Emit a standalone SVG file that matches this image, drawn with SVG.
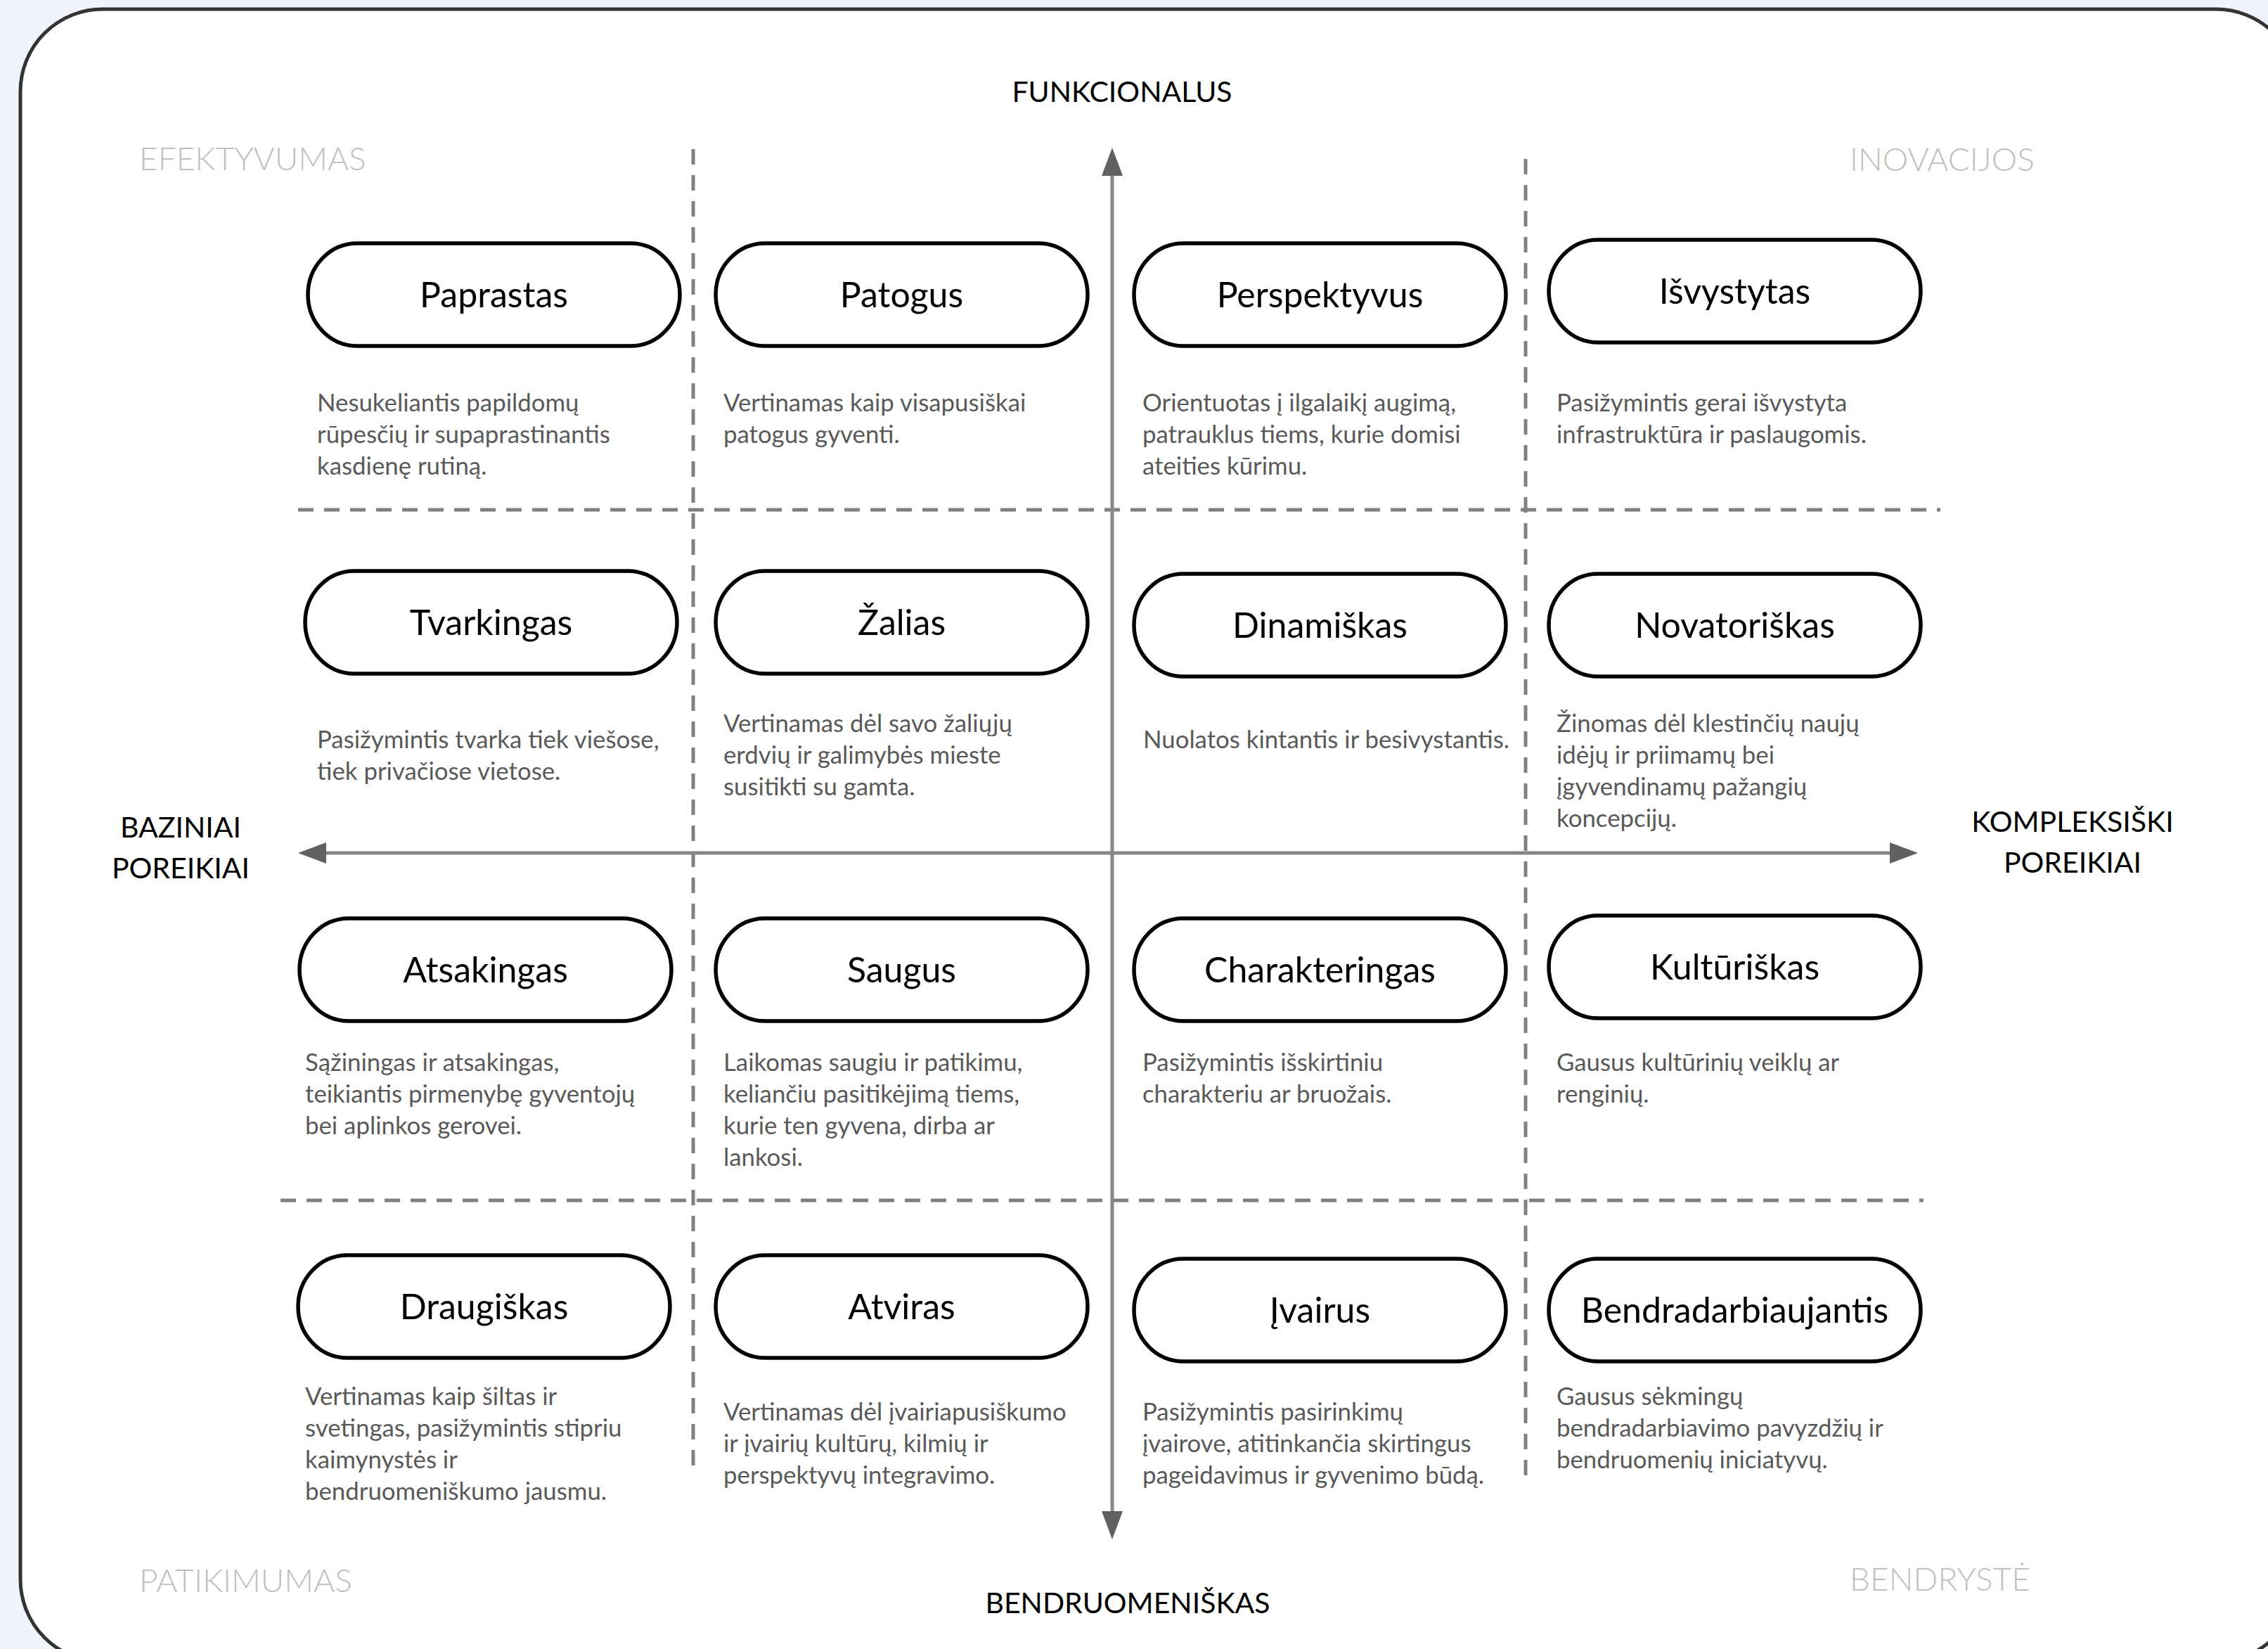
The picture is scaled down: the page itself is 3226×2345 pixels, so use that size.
<svg xmlns="http://www.w3.org/2000/svg" width="3226" height="2345" viewBox="0 0 3226 2345">
<defs>
<style>
.bg{fill:#eff3fb}
.frame{fill:#fff;stroke:#333;stroke-width:5}
.pill{fill:#fff;stroke:#000;stroke-width:5.5}
.lbl{font-family:Lato,"Liberation Sans",sans-serif;font-size:50px;fill:#000;text-anchor:middle}
.desc{font-family:Lato,"Liberation Sans",sans-serif;font-size:34.8px;fill:#595959}
.axl{font-family:Lato,"Liberation Sans",sans-serif;font-size:41px;fill:#000;text-anchor:middle}
.quad{font-family:Lato,"Liberation Sans",sans-serif;font-size:46px;font-weight:300;fill:#bfbfbf}
.grid{stroke:#808080;stroke-width:5;stroke-dasharray:22 15;fill:none}
.ax{stroke:#888;stroke-width:5;fill:none}
</style>
<marker id="arr" markerUnits="userSpaceOnUse" markerWidth="40" markerHeight="30" refX="0" refY="15" orient="auto-start-reverse" viewBox="0 0 40 30">
<path d="M0,0 L40,15 L0,30 Z" fill="#606060"/>
</marker>
</defs>
<rect class="bg" x="0" y="0" width="3226" height="2345"/>
<rect class="frame" x="29" y="13" width="3240" height="2350" rx="117" ry="117"/>

<g id="grid">
<line class="grid" x1="986" y1="212" x2="986" y2="2088"/>
<line class="grid" x1="2170" y1="226" x2="2170" y2="2102"/>
<line class="grid" x1="424" y1="725" x2="2760" y2="725"/>
<line class="grid" x1="399" y1="1707" x2="2736" y2="1707"/>
</g>

<g id="connectors">
<line class="ax" x1="1582" y1="250" x2="1582" y2="2149" marker-start="url(#arr)" marker-end="url(#arr)"/>
<line class="ax" x1="464" y1="1213" x2="2688" y2="1213" marker-start="url(#arr)" marker-end="url(#arr)"/>
</g>

<g id="axis-labels">
<text class="axl" x="1596" y="145">FUNKCIONALUS</text>
<text class="axl" x="1604" y="2294">BENDRUOMENIŠKAS</text>
<text class="axl" x="257" y="1191">BAZINIAI<tspan x="257" dy="58">POREIKIAI</tspan></text>
<text class="axl" x="2948" y="1183">KOMPLEKSIŠKI<tspan x="2948" dy="58">POREIKIAI</tspan></text>
</g>

<g id="quadrant-labels">
<text class="quad" x="198" y="242">EFEKTYVUMAS</text>
<text class="quad" x="2631" y="243">INOVACIJOS</text>
<text class="quad" x="198" y="2264">PATIKIMUMAS</text>
<text class="quad" x="2631" y="2262">BENDRYSTĖ</text>
</g>

<g id="paprastas">
<rect class="pill" x="438" y="346" width="529" height="146" rx="70" ry="73"/>
<text class="lbl" x="702.5" y="437">Paprastas</text>
<text class="desc" x="451" y="585">Nesukeliantis papildomų<tspan x="451" dy="45">rūpesčių ir supaprastinantis</tspan><tspan x="451" dy="45">kasdienę rutiną.</tspan></text>
</g>
<g id="patogus">
<rect class="pill" x="1018" y="346" width="529" height="146" rx="70" ry="73"/>
<text class="lbl" x="1282.5" y="437">Patogus</text>
<text class="desc" x="1029" y="585">Vertinamas kaip visapusiškai<tspan x="1029" dy="45">patogus gyventi.</tspan></text>
</g>
<g id="perspektyvus">
<rect class="pill" x="1613" y="346" width="529" height="146" rx="70" ry="73"/>
<text class="lbl" x="1877.5" y="437">Perspektyvus</text>
<text class="desc" x="1625" y="585">Orientuotas į ilgalaikį augimą,<tspan x="1625" dy="45">patrauklus tiems, kurie domisi</tspan><tspan x="1625" dy="45">ateities kūrimu.</tspan></text>
</g>
<g id="isvystytas">
<rect class="pill" x="2203" y="341" width="529" height="146" rx="70" ry="73"/>
<text class="lbl" x="2467.5" y="432">Išvystytas</text>
<text class="desc" x="2214" y="585">Pasižymintis gerai išvystyta<tspan x="2214" dy="45">infrastruktūra ir paslaugomis.</tspan></text>
</g>

<g id="tvarkingas">
<rect class="pill" x="434" y="812" width="529" height="146" rx="70" ry="73"/>
<text class="lbl" x="698.5" y="903">Tvarkingas</text>
<text class="desc" x="451" y="1064">Pasižymintis tvarka tiek viešose,<tspan x="451" dy="45">tiek privačiose vietose.</tspan></text>
</g>
<g id="zalias">
<rect class="pill" x="1018" y="812" width="529" height="146" rx="70" ry="73"/>
<text class="lbl" x="1282.5" y="903">Žalias</text>
<text class="desc" x="1029" y="1041">Vertinamas dėl savo žaliųjų<tspan x="1029" dy="45">erdvių ir galimybės mieste</tspan><tspan x="1029" dy="45">susitikti su gamta.</tspan></text>
</g>
<g id="dinamiskas">
<rect class="pill" x="1613" y="816" width="529" height="146" rx="70" ry="73"/>
<text class="lbl" x="1877.5" y="907">Dinamiškas</text>
<text class="desc" x="1626" y="1064">Nuolatos kintantis ir besivystantis.</text>
</g>
<g id="novatoriskas">
<rect class="pill" x="2203" y="816" width="529" height="146" rx="70" ry="73"/>
<text class="lbl" x="2467.5" y="907">Novatoriškas</text>
<text class="desc" x="2214" y="1041">Žinomas dėl klestinčių naujų<tspan x="2214" dy="45">idėjų ir priimamų bei</tspan><tspan x="2214" dy="45">įgyvendinamų pažangių</tspan><tspan x="2214" dy="45">koncepcijų.</tspan></text>
</g>

<g id="atsakingas">
<rect class="pill" x="426" y="1306" width="529" height="146" rx="70" ry="73"/>
<text class="lbl" x="690.5" y="1397">Atsakingas</text>
<text class="desc" x="434" y="1523">Sąžiningas ir atsakingas,<tspan x="434" dy="45">teikiantis pirmenybę gyventojų</tspan><tspan x="434" dy="45">bei aplinkos gerovei.</tspan></text>
</g>
<g id="saugus">
<rect class="pill" x="1018" y="1306" width="529" height="146" rx="70" ry="73"/>
<text class="lbl" x="1282.5" y="1397">Saugus</text>
<text class="desc" x="1029" y="1523">Laikomas saugiu ir patikimu,<tspan x="1029" dy="45">keliančiu pasitikėjimą tiems,</tspan><tspan x="1029" dy="45">kurie ten gyvena, dirba ar</tspan><tspan x="1029" dy="45">lankosi.</tspan></text>
</g>
<g id="charakteringas">
<rect class="pill" x="1613" y="1306" width="529" height="146" rx="70" ry="73"/>
<text class="lbl" x="1877.5" y="1397">Charakteringas</text>
<text class="desc" x="1625" y="1523">Pasižymintis išskirtiniu<tspan x="1625" dy="45">charakteriu ar bruožais.</tspan></text>
</g>
<g id="kulturiskas">
<rect class="pill" x="2203" y="1302" width="529" height="146" rx="70" ry="73"/>
<text class="lbl" x="2467.5" y="1393">Kultūriškas</text>
<text class="desc" x="2214" y="1523">Gausus kultūrinių veiklų ar<tspan x="2214" dy="45">renginių.</tspan></text>
</g>

<g id="draugiskas">
<rect class="pill" x="424" y="1785" width="529" height="146" rx="70" ry="73"/>
<text class="lbl" x="688.5" y="1876">Draugiškas</text>
<text class="desc" x="434" y="1998">Vertinamas kaip šiltas ir<tspan x="434" dy="45">svetingas, pasižymintis stipriu</tspan><tspan x="434" dy="45">kaimynystės ir</tspan><tspan x="434" dy="45">bendruomeniškumo jausmu.</tspan></text>
</g>
<g id="atviras">
<rect class="pill" x="1018" y="1785" width="529" height="146" rx="70" ry="73"/>
<text class="lbl" x="1282.5" y="1876">Atviras</text>
<text class="desc" x="1029" y="2020">Vertinamas dėl įvairiapusiškumo<tspan x="1029" dy="45">ir įvairių kultūrų, kilmių ir</tspan><tspan x="1029" dy="45">perspektyvų integravimo.</tspan></text>
</g>
<g id="ivairus">
<rect class="pill" x="1613" y="1790" width="529" height="146" rx="70" ry="73"/>
<text class="lbl" x="1877.5" y="1881">Įvairus</text>
<text class="desc" x="1625" y="2020">Pasižymintis pasirinkimų<tspan x="1625" dy="45">įvairove, atitinkančia skirtingus</tspan><tspan x="1625" dy="45">pageidavimus ir gyvenimo būdą.</tspan></text>
</g>
<g id="bendradarbiaujantis">
<rect class="pill" x="2203" y="1790" width="529" height="146" rx="70" ry="73"/>
<text class="lbl" x="2467.5" y="1881">Bendradarbiaujantis</text>
<text class="desc" x="2214" y="1998">Gausus sėkmingų<tspan x="2214" dy="45">bendradarbiavimo pavyzdžių ir</tspan><tspan x="2214" dy="45">bendruomenių iniciatyvų.</tspan></text>
</g>
</svg>
